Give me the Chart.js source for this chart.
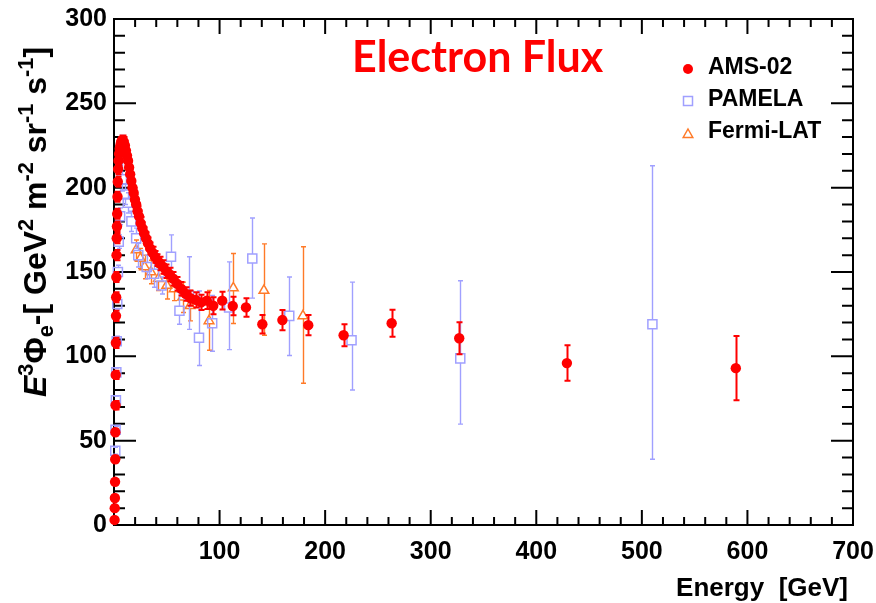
<!DOCTYPE html>
<html>
<head>
<meta charset="utf-8">
<script src="https://cdn.jsdelivr.net/npm/chart.js@4.4.0/dist/chart.umd.min.js"></script>
<style>
  html, body { margin: 0; padding: 0; background: #fff; }
  #wrap { position: relative; width: 876px; height: 603px; overflow: hidden; }
  #plot { position: absolute; left: 0; top: 0; }
  #title {
    position: absolute; left: 352px; top: 34px;
    font: 700 43px Lato, "Open Sans", sans-serif; line-height: 43px;
    color: #ff0000; white-space: nowrap;
  }
  #ytitle {
    position: absolute; left: 35px; top: 222px;
    transform: translate(-50%, -50%) rotate(-90deg);
    font: 700 32px "Liberation Sans", Arial, sans-serif; line-height: 32px;
    color: #000; white-space: nowrap;
  }
  #ytitle sup { font-size: 0.68em; position: relative; top: -0.6em; line-height: 0; vertical-align: baseline; }
  #ytitle sub { font-size: 0.68em; position: relative; top: 0.3em; line-height: 0; vertical-align: baseline; }
</style>
</head>
<body>
<div id="wrap">
  <canvas id="plot" width="876" height="603"></canvas>
  <div id="title">Electron Flux</div>
  <div id="ytitle"><i>E</i><sup>3</sup>&Phi;<sub>e</sub>-[ GeV<sup>2</sup> m<sup>-2</sup> sr<sup>-1</sup> s<sup>-1</sup>]</div>
</div>
<script>
// ---- AMS-02 electron flux, E^3 * flux [GeV^2 m^-2 sr^-1 s^-1] ----
const amsEnergy = [0.55, 0.7, 0.85, 1.0, 1.15, 1.3, 1.45, 1.6, 1.75, 1.9, 2.05, 2.2, 2.4, 2.6, 2.8, 3.0, 3.3, 3.6, 3.9,
  4.3, 4.8, 5.4, 6.0, 6.7, 7.5, 8.4, 9.3, 10.3, 11.3, 12.3, 13.3, 14.3, 15.3, 16.4, 17.5, 18.6, 19.8, 21, 22.3,
  23.7, 25.2, 26.8, 28.5, 30.3, 32.2, 34.3, 36.5, 38.8, 41.2, 43.8, 46.6, 49.6, 52.8, 56.2, 59.8, 63.7, 67.9, 72.4, 77.3,
  82.5, 88, 94, 102.5, 112.5, 125, 140.5, 159.5, 184, 217.5, 263, 327, 429, 589];
const amsFlux = [3, 10, 16, 25.6, 39, 55, 71, 89, 108, 124, 135, 147, 160, 170, 177, 184.5, 194.6, 203.5, 211,
  216, 220, 223, 225, 227, 228, 228, 227, 225, 222, 219, 216, 212, 208, 204, 200, 197, 193, 190, 186,
  183, 179, 176, 173, 170, 167, 164, 161.5, 159, 157, 155, 153, 150.5, 148.5, 146, 143, 140, 137, 134.5, 133.5,
  132, 133, 130, 133, 129.8, 129, 119, 121.5, 118.5, 112.5, 119.6, 110.7, 96, 93];
const amsErr = [1, 1, 1, 1.5, 2, 2, 2.5, 2.5, 3, 3, 3, 3, 3, 3, 3, 3, 3, 3, 3,
  3, 3, 3, 3, 3, 3, 3, 3, 3, 3, 3, 3, 3, 3, 3, 3, 3, 3, 3, 3,
  3.5, 3.5, 3.5, 3.5, 3.5, 3.5, 3.5, 3.5, 3.5, 3.5, 4, 4, 4, 4, 4, 4, 4, 4, 4.5, 4.5,
  4.5, 5, 5, 5.3, 5.5, 5.5, 5.5, 6, 6, 6.5, 8, 9.5, 10.5, 19];

// ---- PAMELA ----
const pamelaEnergy = [1.2, 1.5, 1.8, 2.2, 2.6, 3.1, 3.7, 4.5, 5.8, 7.5, 10.5, 13, 16.5, 21, 23, 31, 38, 45, 54, 62, 71, 80.5, 93, 109, 131, 166, 225, 328, 510];
const pamelaFlux = [44, 56.5, 74, 90.5, 109, 131, 150, 168, 183, 205, 196, 191, 180, 170, 160, 153, 149, 142, 159, 127, 136, 111, 119.6, 129, 158, 124, 109.5, 98.8, 119];
const pamelaErrLow = [2, 2, 2.5, 2.5, 3, 3, 4, 4, 5, 7, 6, 6, 6, 6, 7, 7, 8, 5, 12, 8, 20, 16.4, 16.6, 25, 23.5, 23.5, 29.5, 39, 80];
const pamelaErrHigh = [2, 2, 2.5, 2.5, 3, 3, 4, 4, 5, 26, 6, 6, 6, 6, 7, 7, 8, 5, 13, 11, 23, 27.7, 16.5, 27, 24, 23, 34.5, 46, 94];

// ---- Fermi-LAT ----
const fermiEnergy = [21, 25, 29, 35, 42, 50, 57, 65, 72, 90, 113, 142, 179];
const fermiFlux = [163, 158, 153, 150, 146, 142, 140, 135, 130, 121, 140.5, 139, 124];
const fermiErrLow = [6, 6, 7, 7, 7, 8, 7, 9, 9, 17.4, 21, 26.5, 40];
const fermiErrHigh = [6, 6, 7, 7, 7, 8, 7, 9, 9, 18, 20.5, 27.7, 41];

// ---- axes ----
const xTickValues = [0, 100, 200, 300, 400, 500, 600, 700];
const yTickValues = [0, 50, 100, 150, 200, 250, 300];
const xMinorStep = 20;
const yMinorStep = 10;
const xAxisTitle = 'Energy  [GeV]';

const FONT = '"Liberation Sans", Arial, Helvetica, sans-serif';
const RED = '#ff0000';
const BLUE = 'rgb(160,160,255)';
const ORANGE = 'rgb(255,122,40)';

const toPoints = (xs, ys) => xs.map((x, i) => ({ x: x, y: ys[i] }));

// Vertical error bars with end caps, drawn just before each dataset's markers
const errorBars = {
  id: 'errorBars',
  beforeDatasetDraw(chart, args) {
    const ds = chart.data.datasets[args.index];
    if (!ds.errLow) return;
    const xs = chart.scales.x, ys = chart.scales.y, c = chart.ctx;
    c.save();
    c.strokeStyle = ds.borderColor;
    c.lineWidth = ds.errWidth;
    c.beginPath();
    ds.data.forEach((p, i) => {
      const x = Math.round(xs.getPixelForValue(p.x)) + 0.5;
      const y = ys.getPixelForValue(p.y);
      const yHi = ys.getPixelForValue(p.y + ds.errHigh[i]);
      const yLo = ys.getPixelForValue(p.y - ds.errLow[i]);
      if (y - ds.gapUp > yHi) { c.moveTo(x, y - ds.gapUp); c.lineTo(x, yHi); }
      if (y + ds.gapDown < yLo) { c.moveTo(x, y + ds.gapDown); c.lineTo(x, yLo); }
      c.moveTo(x - ds.capHalf, yHi); c.lineTo(x + ds.capHalf, yHi);
      c.moveTo(x - ds.capHalf, yLo); c.lineTo(x + ds.capHalf, yLo);
    });
    c.stroke();
    c.restore();
  }
};

// Box frame with inward major/minor ticks on all four sides, plus the x-axis title
const frame = {
  id: 'frame',
  beforeDatasetsDraw(chart) {
    const { left, right, top, bottom } = chart.chartArea;
    const xs = chart.scales.x, ys = chart.scales.y, c = chart.ctx;
    c.save();
    c.strokeStyle = '#000';
    c.lineWidth = 2;
    c.strokeRect(left, top, right - left, bottom - top);
    c.beginPath();
    for (let v = ys.min; v <= ys.max; v += yMinorStep) {
      const y = ys.getPixelForValue(v);
      const len = yTickValues.includes(v) ? 22 : 11;
      c.moveTo(left, y); c.lineTo(left + len, y);
      c.moveTo(right, y); c.lineTo(right - len, y);
    }
    for (let e = xs.min; e <= xs.max; e += xMinorStep) {
      const x = xs.getPixelForValue(e);
      const len = xTickValues.includes(e) ? 15 : 8;
      c.moveTo(x, bottom); c.lineTo(x, bottom - len);
      c.moveTo(x, top); c.lineTo(x, top + len);
    }
    c.stroke();
    c.fillStyle = '#000';
    c.font = 'bold 26px ' + FONT;
    c.textAlign = 'right';
    c.textBaseline = 'alphabetic';
    c.fillText(xAxisTitle, right - 5, bottom + 71);
    c.restore();
  }
};

// Legend box in the upper right of the plot
const legendBox = {
  id: 'legendBox',
  afterDraw(chart) {
    const c = chart.ctx;
    const mx = 688, tx = 708;
    c.save();
    c.fillStyle = RED;
    c.beginPath(); c.arc(mx, 69, 5, 0, Math.PI * 2); c.fill();
    c.strokeStyle = BLUE; c.lineWidth = 1.5;
    c.strokeRect(mx - 4.5, 96.5, 9, 9);
    c.strokeStyle = ORANGE;
    c.beginPath(); c.moveTo(mx, 129); c.lineTo(mx + 4.8, 137.5); c.lineTo(mx - 4.8, 137.5); c.closePath(); c.stroke();
    c.fillStyle = '#000';
    c.font = 'bold 23px ' + FONT;
    c.textBaseline = 'middle';
    c.textAlign = 'left';
    c.fillText('AMS-02', tx, 68);
    c.fillText('PAMELA', tx, 100);
    c.fillText('Fermi-LAT', tx, 132);
    c.restore();
  }
};

new Chart(document.getElementById('plot'), {
  type: 'scatter',
  data: {
    datasets: [
      {
        label: 'AMS-02',
        data: toPoints(amsEnergy, amsFlux),
        errLow: amsErr, errHigh: amsErr,
        errWidth: 2, capHalf: 3, gapUp: 0, gapDown: 0,
        pointStyle: 'circle', pointRadius: 5.2, pointBorderWidth: 0,
        backgroundColor: RED, borderColor: RED,
        clip: false
      },
      {
        label: 'PAMELA',
        data: toPoints(pamelaEnergy, pamelaFlux),
        errLow: pamelaErrLow, errHigh: pamelaErrHigh,
        errWidth: 1.4, capHalf: 2.5, gapUp: 4.5, gapDown: 4.5,
        pointStyle: 'rect', pointRadius: 6.4, pointBorderWidth: 1.5,
        backgroundColor: 'rgba(0,0,0,0)', borderColor: BLUE,
        clip: false
      },
      {
        label: 'Fermi-LAT',
        data: toPoints(fermiEnergy, fermiFlux),
        errLow: fermiErrLow, errHigh: fermiErrHigh,
        errWidth: 1.4, capHalf: 2.5, gapUp: 5.5, gapDown: 2.8,
        pointStyle: 'triangle', pointRadius: 5.6, pointBorderWidth: 1.5,
        backgroundColor: 'rgba(0,0,0,0)', borderColor: ORANGE,
        clip: false
      }
    ]
  },
  options: {
    responsive: false,
    animation: false,
    devicePixelRatio: 1,
    events: [],
    layout: { padding: { top: 19, right: 23, left: 0, bottom: 0 } },
    plugins: { legend: { display: false }, tooltip: { enabled: false } },
    scales: {
      x: {
        type: 'linear', position: 'bottom', min: 0, max: 700,
        grid: { display: false, drawTicks: false },
        border: { display: false },
        afterBuildTicks: s => { s.ticks = xTickValues.map(v => ({ value: v })); },
        ticks: {
          color: '#000', padding: 12, maxRotation: 0, autoSkip: false,
          font: { family: FONT, weight: 'bold', size: 25 },
          callback: v => (v === 0 ? '' : String(v))
        },
        afterFit: s => { s.height = 78; s.paddingLeft = 0; s.paddingRight = 0; }
      },
      y: {
        type: 'linear', position: 'left', min: 0, max: 300,
        grid: { display: false, drawTicks: false },
        border: { display: false },
        afterBuildTicks: s => { s.ticks = yTickValues.map(v => ({ value: v })); },
        ticks: {
          color: '#000', padding: 7,
          font: { family: FONT, weight: 'bold', size: 25 }
        },
        afterFit: s => { s.width = 114; s.paddingTop = 0; s.paddingBottom = 0; }
      }
    }
  },
  plugins: [frame, errorBars, legendBox]
});
</script>
</body>
</html>
